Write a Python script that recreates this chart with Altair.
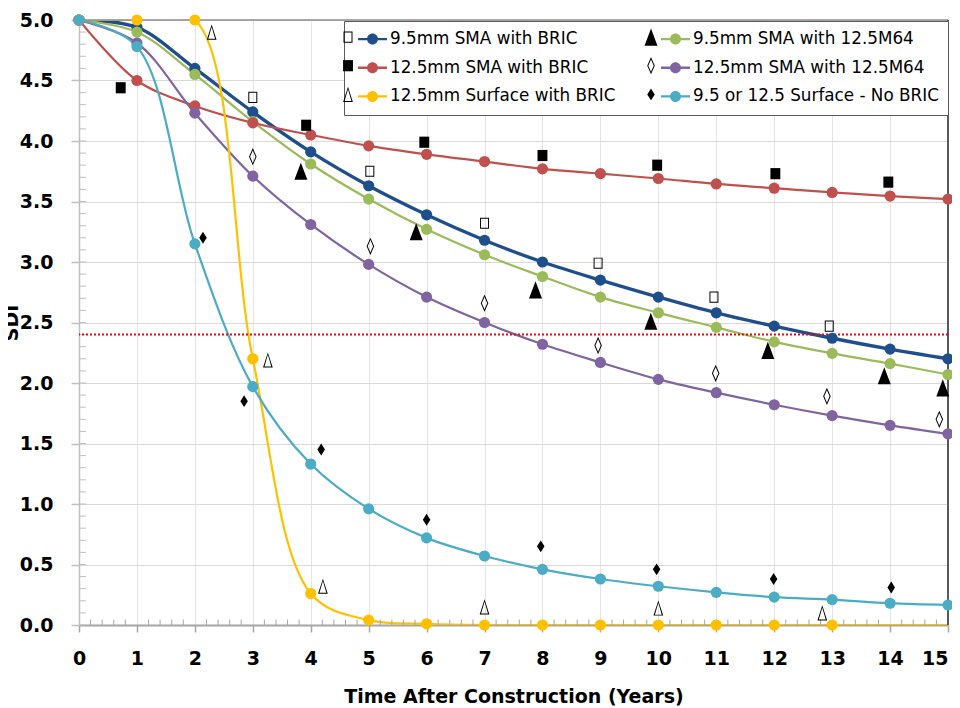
import altair as alt
import pandas as pd

FONT = "DejaVu Sans"

years = list(range(16))

# series, listed in legend order (column by column)
series_names = [
    "9.5mm SMA with BRIC",
    "12.5mm SMA with BRIC",
    "12.5mm Surface with BRIC",
    "9.5mm SMA with 12.5M64",
    "12.5mm SMA with 12.5M64",
    "9.5 or 12.5 Surface - No BRIC",
]
series_colors = ["#1F4E8C", "#C0504D", "#FFC000", "#9BBB59", "#8064A2", "#4BACC6"]

# modelled (smoothed) curves, one value per year 0..15
sdi_95_sma_bric = [5.0, 4.94, 4.60, 4.24, 3.91, 3.63, 3.39, 3.18, 3.00, 2.85, 2.71, 2.58, 2.47, 2.37, 2.28, 2.20]
sdi_125_sma_bric = [5.0, 4.50, 4.29, 4.15, 4.05, 3.96, 3.89, 3.83, 3.77, 3.73, 3.69, 3.645, 3.61, 3.575, 3.545, 3.52]
sdi_125_surf_bric = [5.0, 5.0, 5.0, 2.20, 0.26, 0.04, 0.01, 0.0, 0.0, 0.0, 0.0, 0.0, 0.0, 0.0, 0.0, 0.0]
sdi_95_sma_m64 = [5.0, 4.90, 4.55, 4.16, 3.81, 3.52, 3.27, 3.06, 2.88, 2.71, 2.58, 2.46, 2.34, 2.245, 2.16, 2.07]
sdi_125_sma_m64 = [5.0, 4.81, 4.23, 3.71, 3.31, 2.98, 2.71, 2.50, 2.32, 2.17, 2.03, 1.92, 1.82, 1.73, 1.65, 1.58]
sdi_surf_nobric = [5.0, 4.78, 3.15, 1.97, 1.33, 0.96, 0.72, 0.57, 0.46, 0.38, 0.32, 0.27, 0.23, 0.21, 0.18, 0.165]
model_values = [sdi_95_sma_bric, sdi_125_sma_bric, sdi_125_surf_bric, sdi_95_sma_m64, sdi_125_sma_m64, sdi_surf_nobric]
draw_order = [0, 3, 1, 4, 2, 5]
surf_bric_last_marker_year = 13

# observed values
obs_95_sma_bric_x = [3.0, 5.02, 7.0, 8.96, 10.96, 12.95]
obs_95_sma_bric_y = [4.36, 3.75, 3.32, 2.99, 2.71, 2.47]
obs_125_sma_bric_x = [0.72, 3.92, 5.96, 8.0, 9.98, 12.02, 13.97]
obs_125_sma_bric_y = [4.44, 4.13, 3.99, 3.88, 3.80, 3.73, 3.66]
obs_125_surf_bric_x = [2.29, 3.26, 4.21, 7.0, 10.0, 12.83]
obs_125_surf_bric_y = [4.90, 2.19, 0.32, 0.15, 0.14, 0.10]
obs_95_sma_m64_x = [3.83, 5.82, 7.88, 9.87, 11.89, 13.9, 14.91]
obs_95_sma_m64_y = [3.75, 3.25, 2.77, 2.51, 2.27, 2.06, 1.96]
obs_125_sma_m64_x = [3.0, 5.03, 7.0, 8.96, 10.99, 12.91, 14.85]
obs_125_sma_m64_y = [3.87, 3.13, 2.66, 2.31, 2.08, 1.89, 1.70]
obs_surf_nobric_x = [2.14, 2.85, 4.18, 6.0, 7.97, 9.97, 11.99, 14.02]
obs_surf_nobric_y = [3.20, 1.85, 1.45, 0.87, 0.65, 0.46, 0.38, 0.31]
obs_x = [obs_95_sma_bric_x, obs_125_sma_bric_x, obs_125_surf_bric_x, obs_95_sma_m64_x, obs_125_sma_m64_x, obs_surf_nobric_x]
obs_y = [obs_95_sma_bric_y, obs_125_sma_bric_y, obs_125_surf_bric_y, obs_95_sma_m64_y, obs_125_sma_m64_y, obs_surf_nobric_y]

threshold_sdi = [2.4]

x_major = years
y_major = [0.0, 0.5, 1.0, 1.5, 2.0, 2.5, 3.0, 3.5, 4.0, 4.5, 5.0]
x_minor = [round(i * 0.2, 2) for i in range(76) if i % 5 != 0]
y_minor = [round(i * 0.1, 2) for i in range(51)]

# observed marker glyphs: open square, filled square, open triangle, filled triangle, open diamond, filled diamond
# (open glyphs are outline rings)
marker_paths = [
    "M-0.5,-0.62L0.5,-0.62L0.5,0.62L-0.5,0.62Z M-0.39,-0.51L-0.39,0.51L0.39,0.51L0.39,-0.51Z",
    "M-0.55,-0.62L0.55,-0.62L0.55,0.62L-0.55,0.62Z",
    "M0,-0.84L0.54,0.84L-0.54,0.84Z M0,-0.58L-0.38,0.73L0.38,0.73Z",
    "M0,-0.95L0.72,0.95L-0.72,0.95Z",
    "M0,-0.96L0.42,0L0,0.96L-0.42,0Z M0,-0.686L-0.3,0L0,0.686L0.3,0Z",
    "M0,-0.66L0.42,0L0,0.66L-0.42,0Z",
]

# legend symbol: short line with a dot (drawn to the right of the symbol slot)
legend_line_path = (
    "M-0.444,-0.135L2.78,-0.135L2.78,0.135L-0.444,0.135Z "
    "M1.777,0A0.61,0.61 0 1,1 0.557,0A0.61,0.61 0 1,1 1.777,0Z"
)

# ---------- data frames ----------
rows = []
for i in draw_order:
    for xv, yv in zip(years, model_values[i]):
        rows.append({"series": series_names[i], "x": xv, "y": yv})
model_df = pd.DataFrame(rows)
points_df = model_df[~((model_df["series"] == series_names[2]) & (model_df["x"] > surf_bric_last_marker_year))]

orows = []
for i in range(6):
    for xv, yv in zip(obs_x[i], obs_y[i]):
        orows.append({"series": series_names[i], "x": xv, "y": yv})
obs_df = pd.DataFrame(orows)

xminor_df = pd.DataFrame({"x": x_minor})
yminor_df = pd.DataFrame({"y": y_minor})
thr_df = pd.DataFrame({"y": threshold_sdi})

x_scale = alt.Scale(domain=[0, 15], nice=False, zero=False)
y_scale = alt.Scale(domain=[0, 5], nice=False)

x_axis = alt.Axis(
    values=x_major, format="d", grid=True, gridColor="#E4E4E4", gridWidth=1,
    domainColor="#A6A6A6", domainWidth=2, tickColor="#A6A6A6", tickSize=7, tickWidth=1.5,
    labelFont=FONT, labelFontSize=19, labelFontWeight="bold", labelColor="black",
    labelPadding=17, labelFlush=False, labelOverlap=False,
    labelAlign=alt.condition("datum.value >= 15", alt.value("right"), alt.value("center")),
    title="Time After Construction (Years)", titleFont=FONT, titleFontSize=19,
    titleFontWeight="bold", titleColor="black", titleY=77, titleBaseline="alphabetic",
)
y_axis = alt.Axis(
    values=y_major, format=".1f", grid=True, gridColor="#D9D9D9", gridWidth=1,
    domainColor="#BFBFBF", domainWidth=1.5, tickColor="#BFBFBF", tickSize=8, tickWidth=1.5,
    labelFont=FONT, labelFontSize=19, labelFontWeight="bold", labelColor="black",
    labelPadding=18, labelFlush=False, labelOverlap=False,
    title="SDI", titleFont=FONT, titleFontSize=19, titleFontWeight="bold", titleColor="black",
    titleX=-62, titleY=302.5, titleAngle=270, titleBaseline="alphabetic", titleAlign="center",
)

legend_common = dict(
    orient="none", columns=2, title=None, labelFont=FONT, labelFontSize=16.8,
    labelColor="black", rowPadding=10.7, labelLimit=400,
    symbolSize=324, labelOffset=19, symbolOpacity=1, symbolStrokeWidth=0,
)

X = lambda: alt.X("x:Q", scale=x_scale, axis=x_axis)
Y = lambda: alt.Y("y:Q", scale=y_scale, axis=y_axis)

lines = alt.Chart(model_df).mark_line(interpolate="catmull-rom", clip=True).encode(
    x=X(), y=Y(),
    stroke=alt.Stroke("series:N", scale=alt.Scale(domain=series_names, range=series_colors), legend=None),
    strokeWidth=alt.condition(alt.datum.series == series_names[0], alt.value(3.4), alt.value(2.2)),
    detail="series:N",
)

dots = alt.Chart(points_df).mark_point(filled=True, size=125, opacity=1, shape="circle").encode(
    x=X(), y=Y(),
    fill=alt.Fill(
        "series:N", scale=alt.Scale(domain=series_names, range=series_colors),
        legend=alt.Legend(
            legendX=265, legendY=1, padding=9, strokeColor="#595959", fillColor="white",
            symbolType=legend_line_path, zindex=1, columnPadding=40, **legend_common,
        ),
    ),
)

observed = alt.Chart(obs_df).mark_point(filled=True, color="black", size=324, opacity=1, strokeWidth=0).encode(
    x=X(), y=Y(),
    shape=alt.Shape(
        "series:N", scale=alt.Scale(domain=series_names, range=marker_paths),
        legend=alt.Legend(
            legendX=260, legendY=8, padding=0, labelExpr="''", zindex=2,
            columnPadding=266, **legend_common,
        ),
    ),
)

xminor = alt.Chart(xminor_df).mark_rule(color="#A6A6A6", strokeWidth=1).encode(
    x=X(),
    y=alt.YDatum(0, scale=y_scale, axis=y_axis),
    y2=alt.Y2Datum(0.045),
)
yminor = alt.Chart(yminor_df).mark_rule(color="#BFBFBF", strokeWidth=1).encode(
    y=Y(),
    x=alt.XDatum(0, scale=x_scale, axis=x_axis),
    x2=alt.X2Datum(0.12),
)
top_border = alt.Chart(thr_df).mark_rule(color="#8C8C8C", strokeWidth=1.5).encode(
    y=alt.YDatum(5, scale=y_scale, axis=y_axis),
)
right_border = alt.Chart(thr_df).mark_rule(color="#595959", strokeWidth=2).encode(
    x=alt.XDatum(15, scale=x_scale, axis=x_axis),
)
threshold = alt.Chart(thr_df).mark_rule(color="#FF0000", strokeWidth=2, strokeDash=[2, 2]).encode(
    y=Y(),
)

chart = (
    alt.layer(lines, xminor, yminor, top_border, right_border, threshold, dots, observed)
    .resolve_scale(fill="independent", shape="independent")
    .properties(
        width=869, height=605,
        autosize=alt.AutoSizeParams(type="none"),
        padding={"left": 71, "top": 12, "right": 4, "bottom": 83},
        background="white",
    )
    .configure_view(stroke=None)
)

chart.save("out.html", embed_options={"renderer": "svg", "actions": False})
